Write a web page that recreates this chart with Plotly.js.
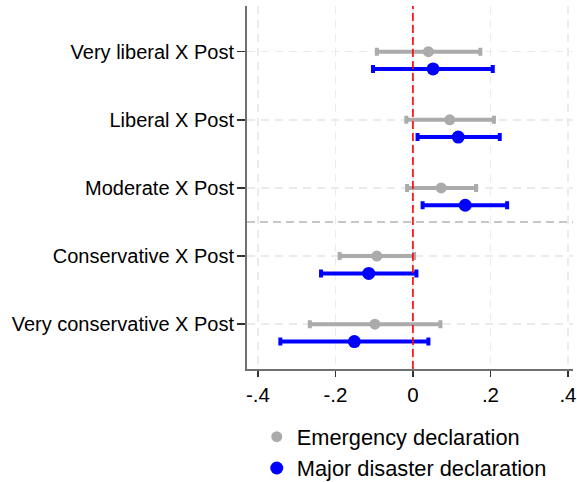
<!DOCTYPE html>
<html>
<head>
<meta charset="utf-8">
<script src="https://cdn.plot.ly/plotly-3.0.1.min.js"></script>
<style>
  html, body { margin: 0; padding: 0; background: #fff; }
  #chart { width: 577px; height: 482px; }
</style>
</head>
<body>
<div id="chart"></div>
<script>
// Interaction terms, top to bottom
const categories = [
  "Very liberal X Post",
  "Liberal X Post",
  "Moderate X Post",
  "Conservative X Post",
  "Very conservative X Post"
];

// Emergency declaration: point estimate and 95% CI bounds
const emergEst   = [0.040, 0.095, 0.073, -0.093, -0.098];
const emergLow   = [-0.093, -0.017, -0.015, -0.189, -0.266];
const emergHigh  = [0.174, 0.209, 0.163, 0.003, 0.071];

// Major disaster declaration: point estimate and 95% CI bounds
const majorEst   = [0.052, 0.117, 0.135, -0.114, -0.151];
const majorLow   = [-0.103, 0.012, 0.025, -0.237, -0.342];
const majorHigh  = [0.206, 0.224, 0.243, 0.009, 0.040];

const xTickVals = [-0.4, -0.2, 0, 0.2, 0.4];
const xTickText = ["-.4", "-.2", "0", ".2", ".4"];

// numeric row positions: first category at the top
const rowPos = categories.map((_, i) => categories.length - i);
const offset = 0.254;

const FONT = "Arial, 'Liberation Sans', sans-serif";

function ciTrace(name, est, lo, hi, ypos, color, size) {
  return {
    type: "scatter",
    mode: "markers",
    name: name,
    x: est,
    y: ypos,
    marker: { color: color, size: size },
    error_x: {
      type: "data",
      symmetric: false,
      array: hi.map((h, i) => h - est[i]),
      arrayminus: est.map((e, i) => e - lo[i]),
      color: color,
      thickness: 4,
      width: 4
    },
    hoverinfo: "x+name"
  };
}

const traces = [
  ciTrace("Emergency declaration", emergEst, emergLow, emergHigh,
          rowPos, "#ababab", 11),
  ciTrace("Major disaster declaration", majorEst, majorLow, majorHigh,
          rowPos.map(p => p - offset), "#0000ff", 13)
];

const layout = {
  width: 577,
  height: 482,
  margin: { l: 247, r: 4, t: 6, b: 113, autoexpand: false },
  paper_bgcolor: "#ffffff",
  plot_bgcolor: "#ffffff",
  font: { family: FONT, color: "#000000" },
  showlegend: true,
  legend: {
    xref: "container", yref: "container",
    x: 0.445, xanchor: "left",
    y: 0.137, yanchor: "top",
    font: { family: FONT, size: 21.8, color: "#000" },
    bgcolor: "rgba(0,0,0,0)",
    tracegroupgap: 0
  },
  xaxis: {
    range: [-0.428, 0.413],
    tickvals: xTickVals,
    ticktext: xTickText,
    ticks: "outside",
    ticklen: 6,
    tickwidth: 1.5,
    tickcolor: "#333",
    tickfont: { family: FONT, size: 20.5, color: "#000" },
    showline: true,
    linecolor: "#707070",
    linewidth: 2,
    showgrid: true,
    gridcolor: "#ebebeb",
    gridwidth: 1.5,
    griddash: "8px,6px",
    zeroline: false,
    mirror: false,
    fixedrange: true
  },
  yaxis: {
    range: [0.343, 5.67],
    tickvals: rowPos,
    ticktext: categories,
    ticks: "outside",
    ticklen: 8,
    tickwidth: 1.5,
    tickcolor: "#333",
    ticklabelstandoff: -1,
    tickfont: { family: FONT, size: 20, color: "#000" },
    showline: true,
    linecolor: "#707070",
    linewidth: 2,
    showgrid: true,
    gridcolor: "#ebebeb",
    gridwidth: 1.5,
    griddash: "8px,6px",
    zeroline: false,
    fixedrange: true
  },
  shapes: [
    // reference line at zero effect, drawn over the intervals
    {
      type: "line", xref: "x", yref: "paper",
      x0: 0, x1: 0, y0: 0, y1: 1,
      line: { color: "#ff0000", width: 1.6, dash: "8px,4px" },
      layer: "above"
    },
    // separator between moderate/liberal and conservative groups
    {
      type: "line", xref: "paper", yref: "y",
      x0: 0, x1: 1, y0: 2.5, y1: 2.5,
      line: { color: "#b4b4b4", width: 1.6, dash: "8px,5px" },
      layer: "below"
    }
  ]
};

Plotly.newPlot("chart", traces, layout, { displayModeBar: false, staticPlot: true });
</script>
</body>
</html>
